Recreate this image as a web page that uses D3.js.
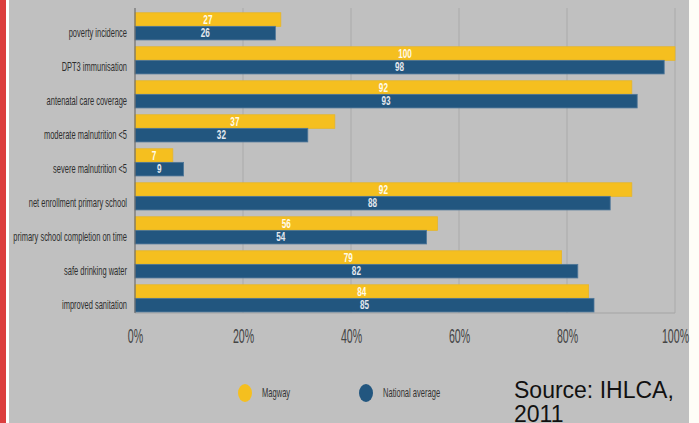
<!DOCTYPE html>
<html>
<head>
<meta charset="utf-8">
<script src="https://cdn.jsdelivr.net/npm/d3@7"></script>
<style>
    body { margin: 0; background: #fefdf7; }
    svg { display: block; }
</style>
</head>
<body>
<svg></svg>
<script>
const categories = [
    'poverty incidence',
    'DPT3 immunisation',
    'antenatal care coverage',
    'moderate malnutrition <5',
    'severe malnutrition <5',
    'net enrollment primary school',
    'primary school completion on time',
    'safe drinking water',
    'improved sanitation'
]
const magway = [27, 100, 92, 37, 7, 92, 56, 79, 84]
const national = [26, 98, 93, 32, 9, 88, 54, 82, 85]
const series = ['Magway', 'National average']
const xTicks = [0, 20, 40, 60, 80, 100]

const colors = { 'Magway': '#f5bf1f', 'National average': '#22567f' }

const width = 699
const height = 423
const margin = { top: 8, left: 135, right: 24, bottom: 110 }
const innerWidth = width - margin.left - margin.right
const innerHeight = height - margin.top - margin.bottom

const rows = categories.map((c, i) => ({ cat: c, values: [magway[i], national[i]] }))

const svg = d3.select('svg')
    .attr('width', width)
    .attr('height', height)

// panel background + left stripe
svg.append('rect').attr('x', 9).attr('y', 0).attr('width', 680).attr('height', height).attr('fill', '#c0c0c0')
svg.append('rect').attr('x', 0).attr('y', 0).attr('width', 6).attr('height', height).attr('fill', '#dc3d3e')
svg.append('rect').attr('x', 6).attr('y', 0).attr('width', 3).attr('height', height).attr('fill', '#ffffff')

const g = svg.append('g')
    .attr('transform', `translate(${margin.left},${margin.top})`)

const xScale = d3.scaleLinear()
    .domain([0, 100])
    .range([0, innerWidth])

const yScale = d3.scaleBand()
    .domain(categories)
    .range([0, innerHeight])
    .paddingInner(0.2)
    .paddingOuter(0.085)
    .align(0.82)

const sScale = d3.scaleBand()
    .domain(series)
    .range([0, yScale.bandwidth()])

// grid
g.selectAll('.grid')
    .data(xTicks.slice(1))
    .enter()
    .append('line')
    .attr('x1', d => xScale(d))
    .attr('x2', d => xScale(d))
    .attr('y1', 0)
    .attr('y2', innerHeight)
    .attr('stroke', '#aaaaaa')
    .attr('stroke-width', 1)

g.append('line')
    .attr('x1', 0).attr('x2', innerWidth)
    .attr('y1', innerHeight).attr('y2', innerHeight)
    .attr('stroke', '#a4a4a4')

const groups = g.selectAll('.cat')
    .data(rows)
    .enter()
    .append('g')
    .attr('transform', d => `translate(0,${yScale(d.cat)})`)

groups.selectAll('rect')
    .data(d => d.values.map((v, i) => ({ s: series[i], v: v })))
    .enter()
    .append('rect')
    .attr('x', 0)
    .attr('y', d => sScale(d.s))
    .attr('width', d => xScale(d.v))
    .attr('height', sScale.bandwidth())
    .attr('fill', d => colors[d.s])
    .attr('stroke', d => d.s === 'Magway' ? '#e6b62a' : '#4f7799')
    .attr('stroke-width', 0.8)

groups.selectAll('.val')
    .data(d => d.values.map((v, i) => ({ s: series[i], v: v })))
    .enter()
    .append('text')
    .attr('transform', d => `translate(${xScale(d.v) / 2},${sScale(d.s) + sScale.bandwidth() / 2 + 4.3}) scale(0.68,1)`)
    .attr('text-anchor', 'middle')
    .style('font-family', 'Liberation Sans, Arial, sans-serif')
    .style('font-weight', 'bold')
    .style('font-size', '12px')
    .attr('fill', d => d.s === 'Magway' ? '#fffbea' : '#e4e8ee')
    .text(d => d.v)

// category labels (aligned with the national bar)
groups.append('text')
    .attr('transform', `translate(-8,${sScale('National average') + sScale.bandwidth() / 2 + 4.3}) scale(0.6,1)`)
    .attr('text-anchor', 'end')
    .style('font-family', 'Liberation Sans, Arial, sans-serif')
    .style('font-size', '12.5px')
    .attr('fill', '#2e2e2e')
    .text(d => d.cat)

// left axis line
g.append('line')
    .attr('x1', 0).attr('x2', 0)
    .attr('y1', 0).attr('y2', innerHeight)
    .attr('stroke', '#6e6e6e')
    .attr('stroke-width', 1.2)

// x axis
const xAxis = d3.axisBottom(xScale)
    .tickValues(xTicks)
    .tickSize(0)
    .tickFormat(d => d + '%')
const gx = g.append('g')
    .attr('transform', `translate(0,${innerHeight})`)
    .call(xAxis)
gx.select('.domain').remove()
gx.selectAll('text')
    .attr('y', 30.5)
    .attr('dy', null)
    .attr('transform', 'scale(0.53,1)')
    .style('font-family', 'Liberation Sans, Arial, sans-serif')
    .style('font-size', '20px')
    .attr('fill', '#444444')

// legend
const legendX = [245, 366]
const legend = svg.selectAll('.legend')
    .data(series)
    .enter()
    .append('g')
    .attr('transform', (d, i) => `translate(${legendX[i]},393)`)
legend.append('ellipse')
    .attr('rx', 7)
    .attr('ry', 9)
    .attr('fill', d => colors[d])
legend.append('text')
    .attr('transform', 'translate(17,4.2) scale(0.63,1)')
    .style('font-family', 'Liberation Sans, Arial, sans-serif')
    .style('font-size', '12px')
    .attr('fill', '#333333')
    .text(d => d)

// source note
const source = svg.append('text')
    .style('font-family', 'Liberation Sans, Arial, sans-serif')
    .style('font-size', '23px')
    .attr('fill', '#111111')
source.append('tspan').attr('x', 514).attr('y', 398).text('Source: IHLCA,')
source.append('tspan').attr('x', 514).attr('y', 422).text('2011')
</script>
</body>
</html>
